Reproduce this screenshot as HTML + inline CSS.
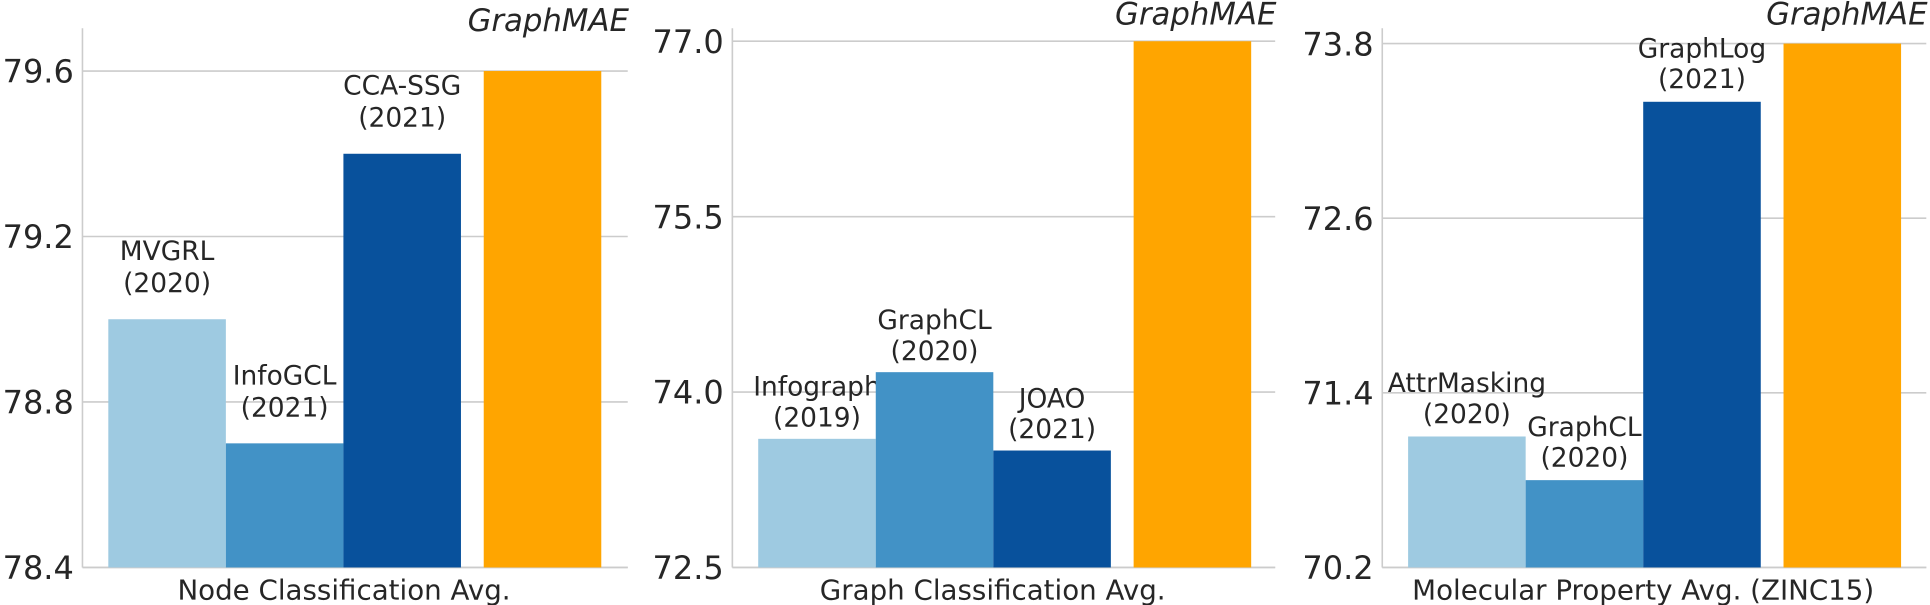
<!DOCTYPE html>
<html><head><meta charset="utf-8"><style>
html,body{margin:0;padding:0;background:#fff;overflow:hidden;}
svg{display:block;font-family:"DejaVu Sans","Liberation Sans",sans-serif;}
</style></head><body>
<svg id="chart" width="1930" height="605" viewBox="0 0 1568 491.5" preserveAspectRatio="none"></svg>
<script>
const panelTitles = ["Node Classification Avg.", "Graph Classification Avg.", "Molecular Property Avg. (ZINC15)"];
const p1Names = ["MVGRL", "InfoGCL", "CCA-SSG", "GraphMAE"];
const p1Years = ["(2020)", "(2021)", "(2021)", ""];
const p1Values = [79.0, 78.7, 79.4, 79.6];
const p1Ticks = [78.4, 78.8, 79.2, 79.6];
const p2Names = ["Infograph", "GraphCL", "JOAO", "GraphMAE"];
const p2Years = ["(2019)", "(2020)", "(2021)", ""];
const p2Values = [73.6, 74.17, 73.5, 77.0];
const p2Ticks = [72.5, 74.0, 75.5, 77.0];
const p3Names = ["AttrMasking", "GraphCL", "GraphLog", "GraphMAE"];
const p3Years = ["(2020)", "(2020)", "(2021)", ""];
const p3Values = [71.1, 70.8, 73.4, 73.8];
const p3Ticks = [70.2, 71.4, 72.6, 73.8];

const colors = ["#9ecae1", "#4292c6", "#08519c", "#ffa500"];
const NS = "http://www.w3.org/2000/svg";
const svg = document.getElementById("chart");
function mk(tag, attrs, parent){const e=document.createElementNS(NS,tag);for(const k in attrs)e.setAttribute(k,attrs[k]);(parent||svg).appendChild(e);return e;}

const layouts = [
  {ax:67, right:510, top:57.7, bottom:461, bar0:88, gap:393, lab:[22,48], names:p1Names, years:p1Years, values:p1Values, ticks:p1Ticks, titleY:25, titleX:511},
  {ax:595, right:1036, top:33.5, bottom:461, bar0:616, gap:921, lab:[10,35], names:p2Names, years:p2Years, values:p2Values, ticks:p2Ticks, titleY:20, titleX:1037},
  {ax:1123, right:1565, top:35.4, bottom:461, bar0:1144, gap:1449, lab:[11,36], names:p3Names, years:p3Years, values:p3Values, ticks:p3Ticks, titleY:20, titleX:1566}
];
const bw = 95.5;

layouts.forEach((L, pi) => {
  const g = mk("g", {});
  
  
  const tmin = L.ticks[0], tmax = L.ticks[L.ticks.length-1];
  const y = v => L.bottom - (v - tmin) / (tmax - tmin) * (L.bottom - L.top);
  L.ticks.forEach(t => {
    const gl = mk("line", {x1:L.ax, x2:L.right, y1:y(t), y2:y(t), stroke:"#cccccc", "stroke-width":1.3}, g);
    
    
    const tl = mk("text", {x:L.ax-7, y:y(t)+9.5, "text-anchor":"end", "font-size":26, fill:"#262626"}, g);
    tl.textContent = t.toFixed(1);
    
    
  });
  const ls = mk("line", {x1:L.ax, x2:L.ax, y1:23, y2:L.bottom, stroke:"#cccccc", "stroke-width":1.3}, g);
  
  
  const bs = mk("line", {x1:L.ax, x2:L.right, y1:L.bottom, y2:L.bottom, stroke:"#cccccc", "stroke-width":1.3}, g);
  
  
  L.values.forEach((v, i) => {
    const x = i < 3 ? L.bar0 + i * bw : L.gap;
    const r = mk("rect", {x:x, y:y(v), width:bw, height:L.bottom - y(v), fill:colors[i]}, g);
    
    
    if (i < 3) {
      const t1 = mk("text", {x:x+bw/2, y:y(v)-L.lab[1], "text-anchor":"middle", "font-size":21.5, fill:"#262626"}, g);
      t1.textContent = L.names[i];
      
      
      const t2 = mk("text", {x:x+bw/2, y:y(v)-L.lab[0], "text-anchor":"middle", "font-size":21.5, fill:"#262626"}, g);
      t2.textContent = L.years[i];
      
      
    }
  });
  const gt = mk("text", {x:L.titleX, y:L.titleY, "text-anchor":"end", "font-size":25, "font-style":"italic", fill:"#262626"}, g);
  gt.textContent = "GraphMAE";
  
  
  const xt = mk("text", {x:(L.ax+L.right)/2 - 9, y:487, "text-anchor":"middle", "font-size":22.5, fill:"#262626"}, g);
  xt.textContent = panelTitles[pi];
  
  
});
</script>
</body></html>
